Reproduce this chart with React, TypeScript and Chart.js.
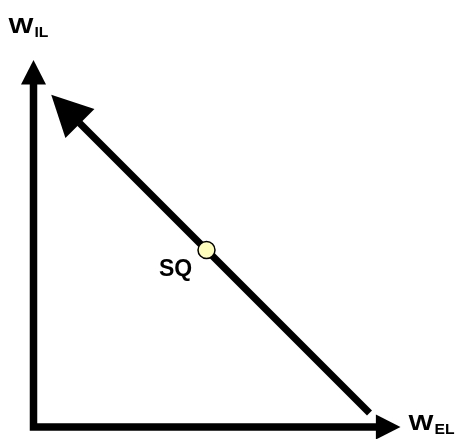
import React, { useEffect, useRef } from "react";
import { Chart, registerables } from "chart.js";

Chart.register(...registerables);

// Axes (W_IL vertical, W_EL horizontal), drawn as one polyline with arrow heads at both ends
const axisX = [0, 0, 343];
const axisY = [343, 0, 0];
// Budget / exchange line W_IL + W_EL = 350 (arrow toward the W_IL axis)
const budgetX = [336, 46];
const budgetY = [14, 304];
// Status quo point
const sqX = [173];
const sqY = [177];
// Axis labels: main letter, subscript, anchor (data coords)
const axisLabelMain = ["W", "W"];
const axisLabelSub = ["IL", "EL"];
const axisLabelX = [-25, 375];
const axisLabelY = [394, -3];
// Point label
const pointLabelText = ["SQ"];
const pointLabelX = [125.5];
const pointLabelY = [151];

const FONT = "'Liberation Sans', Arial, Helvetica, sans-serif";

const toPts = (xs: number[], ys: number[]) => xs.map((x, i) => ({ x, y: ys[i] }));

const arrowPlugin = {
  id: "arrowHeads",
  afterDatasetsDraw(chart: any) {
    const ctx = chart.ctx;
    chart.data.datasets.forEach((ds: any, di: number) => {
      if (!ds.arrowEnds) return;
      const meta = chart.getDatasetMeta(di);
      const pts = meta.data;
      const draw = (endIdx: number, prevIdx: number) => {
        const e = pts[endIdx];
        const p = pts[prevIdx];
        let dx = e.x - p.x;
        let dy = e.y - p.y;
        const len = Math.hypot(dx, dy);
        dx /= len;
        dy /= len;
        const L = ds.arrowLength;
        const W = ds.arrowWidth / 2;
        const bx = e.x - dx * 0.6;
        const by = e.y - dy * 0.6;
        ctx.save();
        ctx.fillStyle = ds.borderColor;
        ctx.beginPath();
        ctx.moveTo(e.x + dx * L, e.y + dy * L);
        ctx.lineTo(bx - dy * W, by + dx * W);
        ctx.lineTo(bx + dy * W, by - dx * W);
        ctx.closePath();
        ctx.fill();
        ctx.restore();
      };
      if (ds.arrowEnds.includes("start")) draw(0, 1);
      if (ds.arrowEnds.includes("end")) draw(pts.length - 1, pts.length - 2);
    });
  },
};

const labelPlugin = {
  id: "textLabels",
  afterDraw(chart: any) {
    const ctx = chart.ctx;
    const xs = chart.scales.x;
    const ys = chart.scales.y;
    ctx.save();
    ctx.fillStyle = "#000";
    ctx.textBaseline = "alphabetic";
    ctx.textAlign = "left";
    axisLabelMain.forEach((m, i) => {
      const px = xs.getPixelForValue(axisLabelX[i]);
      const py = ys.getPixelForValue(axisLabelY[i]);
      ctx.save();
      ctx.translate(px, py);
      ctx.scale(1.2, 1);
      ctx.font = `bold 22px ${FONT}`;
      ctx.fillText(m, 0, 0);
      const w = ctx.measureText(m).width;
      ctx.restore();
      ctx.save();
      ctx.translate(px + w * 1.2 + 1, py + 3.5);
      ctx.scale(1.12, 1);
      ctx.font = `bold 14px ${FONT}`;
      ctx.fillText(axisLabelSub[i], 0, 0);
      ctx.restore();
    });
    pointLabelText.forEach((t, i) => {
      const px = xs.getPixelForValue(pointLabelX[i]);
      const py = ys.getPixelForValue(pointLabelY[i]);
      ctx.font = `bold 23px ${FONT}`;
      ctx.fillText(t, px, py);
    });
    ctx.restore();
  },
};

export default function App() {
  const ref = useRef<HTMLCanvasElement>(null);
  useEffect(() => {
    if (!ref.current) return;
    const chart = new Chart(ref.current, {
      type: "scatter",
      data: {
        datasets: [
          {
            label: "SQ",
            data: toPts(sqX, sqY),
            pointRadius: 8.5,
            pointBackgroundColor: "#ffffbb",
            pointBorderColor: "#000",
            pointBorderWidth: 1.5,
            showLine: false,
            clip: false,
          } as any,
          {
            label: "budget",
            data: toPts(budgetX, budgetY),
            showLine: true,
            borderColor: "#000",
            borderWidth: 7,
            borderCapStyle: "butt",
            pointRadius: 0,
            tension: 0,
            clip: false,
            arrowEnds: ["end"],
            arrowLength: 40,
            arrowWidth: 41,
          } as any,
          {
            label: "axes",
            data: toPts(axisX, axisY),
            showLine: true,
            borderColor: "#000",
            borderWidth: 7.5,
            borderCapStyle: "butt",
            borderJoinStyle: "miter",
            pointRadius: 0,
            tension: 0,
            clip: false,
            arrowEnds: ["start", "end"],
            arrowLength: 24,
            arrowWidth: 25,
          } as any,
        ],
      },
      options: {
        animation: false,
        responsive: false,
        events: [],
        layout: { padding: 0, autoPadding: false },
        plugins: { legend: { display: false }, tooltip: { enabled: false } },
        scales: {
          x: { type: "linear", min: -33.5, max: 423.5, display: false },
          y: { type: "linear", min: -12, max: 427, display: false },
        },
      },
      plugins: [arrowPlugin, labelPlugin],
    });
    return () => chart.destroy();
  }, []);
  return (
    <div style={{ position: "absolute", left: 0, top: 0, width: 457, height: 439, background: "#fff" }}>
      <canvas ref={ref} width={457} height={439} style={{ display: "block" }} />
    </div>
  );
}
